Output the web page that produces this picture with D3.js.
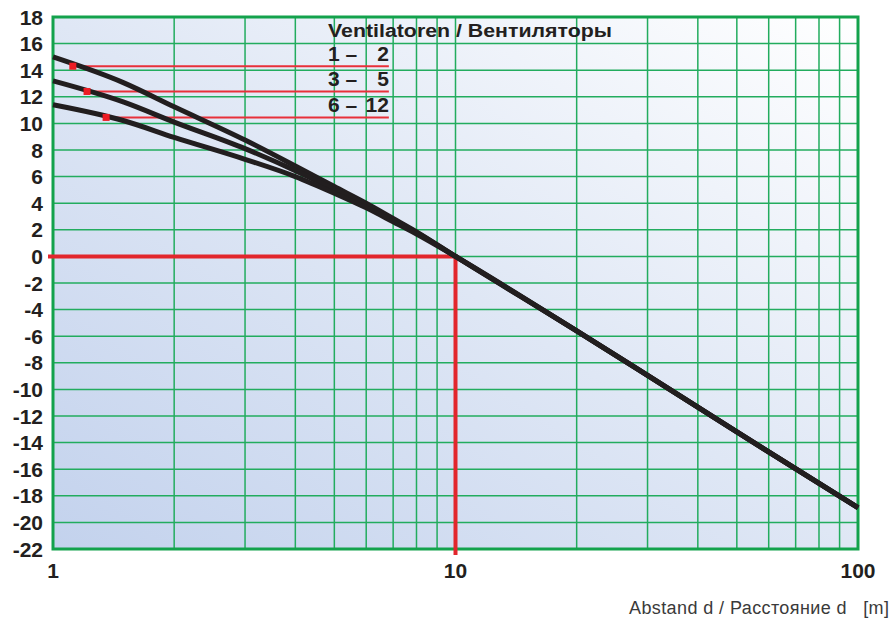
<!DOCTYPE html>
<html>
<head>
<meta charset="utf-8">
<script src="https://cdn.jsdelivr.net/npm/d3@7"></script>
<style>
  body { margin: 0; background: #fff; }
  svg { display: block; }
  text { font-family: "Liberation Sans", Arial, sans-serif; fill: #231f20; }
</style>
</head>
<body>
<div id="chart"></div>
<script>
// distances (m) where the fan curves are read
const nearX = [1, 1.5, 2, 3, 4, 5, 6, 7, 8, 10];
const curve12 = [15, 13.05, 11.25, 8.75, 6.8, 5.25, 4.0, 2.85, 1.85, 0];
const curve35 = [13.2, 11.6, 10.1, 8.1, 6.45, 5.05, 3.9, 2.78, 1.8, 0];
const curve612 = [11.4, 10.2, 8.95, 7.3, 6.0, 4.75, 3.65, 2.6, 1.68, 0];
// common tail beyond 10 m
const farX = [10, 20, 30, 50, 100];
const farY = [0, -5.6, -8.95, -13.2, -18.9];

const legendLabels = [["1 –", "2"], ["3 –", "5"], ["6 –", "12"]];
const markerX = [1.12, 1.215, 1.355];
const markerY = [14.3, 12.4, 10.45];
const legendEndX = 6.83;
const legendTitle = "Ventilatoren / Вентиляторы";

const yTicks = d3.range(18, -23, -2);
const xGrid = [1, 2, 3, 4, 5, 6, 7, 8, 9, 10, 20, 30, 40, 50, 60, 70, 80, 90, 100];
const xLabels = [1, 10, 100];
const refX = 10, refY = 0;

const width = 891, height = 620;
const mLeft = 53, mRight = 858, mTop = 17, mBottom = 549;

const svg = d3.select("#chart").append("svg")
    .attr("width", width)
    .attr("height", height);

const x = d3.scaleLog().domain([1, 100]).range([mLeft, mRight]);
const y = d3.scaleLinear().domain([-22, 18]).range([mBottom, mTop]);

// background gradient
const grad = svg.append("defs").append("linearGradient")
    .attr("id", "bg")
    .attr("x1", 0).attr("y1", 1).attr("x2", 1).attr("y2", 0);
grad.append("stop").attr("offset", 0).attr("stop-color", "#c3d2ed");
grad.append("stop").attr("offset", 0.5).attr("stop-color", "#dfe7f5");
grad.append("stop").attr("offset", 1).attr("stop-color", "#ffffff");

svg.append("rect")
    .attr("x", mLeft).attr("y", mTop)
    .attr("width", mRight - mLeft).attr("height", mBottom - mTop)
    .attr("fill", "url(#bg)");

// grid
svg.append("g").selectAll("line").data(xGrid).join("line")
    .attr("x1", d => x(d)).attr("x2", d => x(d))
    .attr("y1", mTop).attr("y2", mBottom)
    .attr("stroke", "#22ac5e").attr("stroke-width", 1.5);

svg.append("g").selectAll("line").data(yTicks).join("line")
    .attr("x1", mLeft).attr("x2", mRight)
    .attr("y1", d => y(d)).attr("y2", d => y(d))
    .attr("stroke", "#22ac5e").attr("stroke-width", 1.5);

// frame
svg.append("rect")
    .attr("x", mLeft).attr("y", mTop)
    .attr("width", mRight - mLeft).attr("height", mBottom - mTop)
    .attr("fill", "none")
    .attr("stroke", "#13a24c").attr("stroke-width", 3);

// reference lines at 10 m / 0
svg.append("path")
    .attr("d", `M${mLeft - 5},${y(refY)}H${x(refX)}V${mBottom + 6}`)
    .attr("fill", "none")
    .attr("stroke", "#e2262c").attr("stroke-width", 4);

// legend red lines
markerX.forEach((mx, i) => {
    svg.append("line")
        .attr("x1", x(mx)).attr("x2", x(legendEndX))
        .attr("y1", y(markerY[i])).attr("y2", y(markerY[i]))
        .attr("stroke", "#e8303a").attr("stroke-width", 2);
});

// curves
const line = d3.line()
    .x(d => x(d[0]))
    .y(d => y(d[1]))
    .curve(d3.curveMonotoneX);

const tail = farX.map((d, i) => [d, farY[i]]).slice(1);
[curve12, curve35, curve612].forEach(c => {
    const pts = nearX.map((d, i) => [d, c[i]]).concat(tail);
    svg.append("path")
        .attr("d", line(pts))
        .attr("fill", "none")
        .attr("stroke", "#221e1f")
        .attr("stroke-width", 5);
});

markerX.forEach((mx, i) => {
    svg.append("rect")
        .attr("x", x(mx) - 3.5).attr("y", y(markerY[i]) - 3.5)
        .attr("width", 7).attr("height", 7)
        .attr("fill", "#ed1c24");
});

// legend text
svg.append("text")
    .attr("x", 328).attr("y", 37)
    .attr("font-size", 18).attr("font-weight", "bold")
    .attr("textLength", 284).attr("lengthAdjust", "spacingAndGlyphs")
    .text(legendTitle);

legendLabels.forEach((lab, i) => {
    const by = y(markerY[i]) - 5;
    svg.append("text")
        .attr("x", 328).attr("y", by)
        .attr("font-size", 21).attr("font-weight", "bold")
        .text(lab[0]);
    svg.append("text")
        .attr("x", x(legendEndX)).attr("y", by)
        .attr("text-anchor", "end")
        .attr("font-size", 21).attr("font-weight", "bold")
        .text(lab[1]);
});

// y labels
svg.append("g").selectAll("text").data(yTicks).join("text")
    .attr("x", 43).attr("y", d => y(d))
    .attr("dy", "0.36em")
    .attr("text-anchor", "end")
    .attr("font-size", 21).attr("font-weight", "bold")
    .text(d => d);

// x labels
svg.append("g").selectAll("text").data(xLabels).join("text")
    .attr("x", d => x(d)).attr("y", 578)
    .attr("text-anchor", "middle")
    .attr("font-size", 21).attr("font-weight", "bold")
    .text(d => d);

// axis title
svg.append("text")
    .attr("x", 889).attr("y", 614)
    .attr("text-anchor", "end")
    .attr("font-size", 18)
    .attr("textLength", 260).attr("lengthAdjust", "spacing")
    .style("fill", "#3a3a3a")
    .style("white-space", "pre")
    .text("Abstand d / Расстояние d   [m]");
</script>
</body>
</html>
